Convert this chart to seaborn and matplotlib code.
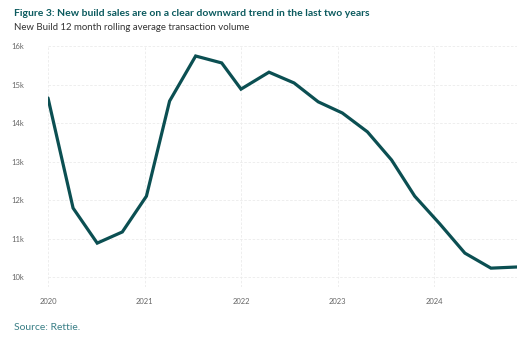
import matplotlib
matplotlib.use("Agg")
import matplotlib.pyplot as plt
import seaborn as sns
import pandas as pd

# Data
dates = [2020.00, 2020.26, 2020.51, 2020.77, 2021.02, 2021.26, 2021.53, 2021.80,
         2022.00, 2022.29, 2022.55, 2022.80, 2023.05, 2023.31, 2023.56, 2023.80,
         2024.06, 2024.32, 2024.59, 2024.86]
volume_k = [14.65, 11.79, 10.88, 11.17, 12.10, 14.57, 15.74, 15.56,
            14.88, 15.32, 15.04, 14.55, 14.26, 13.77, 13.04, 12.10,
            11.38, 10.62, 10.23, 10.26]
year_ticks = [2020, 2021, 2022, 2023, 2024]
y_ticks = [10, 11, 12, 13, 14, 15, 16]
y_labels = ["10k", "11k", "12k", "13k", "14k", "15k", "16k"]

title = "Figure 3: New build sales are on a clear downward trend in the last two years"
subtitle = "New Build 12 month rolling average transaction volume"
source = "Source: Rettie."

sns.set_theme(style="white")
plt.rcParams['font.family'] = ['Lato', 'DejaVu Sans']

df = pd.DataFrame({"date": dates, "volume": volume_k})

fig = plt.figure(figsize=(5.31, 3.39), dpi=100)
ax = fig.add_axes([48/531, 1-287/339, (517-48)/531, (287-46)/339])

teal = "#0b4f52"
sns.lineplot(data=df, x="date", y="volume", ax=ax, color=teal, linewidth=2.3,
             solid_joinstyle="miter")

ax.set_xlim(2020, 2024.86)
ax.set_ylim(16 - (287-46)/38.5, 16)
ax.set_xticks(year_ticks)
ax.set_xticklabels([str(y) for y in year_ticks])
ax.set_yticks(y_ticks)
ax.set_yticklabels(y_labels)
ax.set_xlabel("")
ax.set_ylabel("")
for s in ax.spines.values():
    s.set_visible(False)
ax.grid(True, color="#ebebeb", linestyle=(0, (3, 2)), linewidth=0.6)
ax.tick_params(axis="both", length=0, labelsize=5.5, colors="#666666")
ax.tick_params(axis="y", pad=17)
ax.tick_params(axis="x", pad=8)
for lab in ax.get_yticklabels():
    lab.set_horizontalalignment("right")

fig.text(14/531, 1-14/339, title, fontsize=7.5, fontweight="bold", color="#0b5a5e",
         va="center", ha="left")
fig.text(14/531, 1-28/339, subtitle, fontsize=6.9, color="#333333",
         va="center", ha="left")
fig.text(14/531, 1-327/339, source, fontsize=7.5, color="#3a7f86",
         va="center", ha="left")

fig.savefig("out.png", dpi=100)
